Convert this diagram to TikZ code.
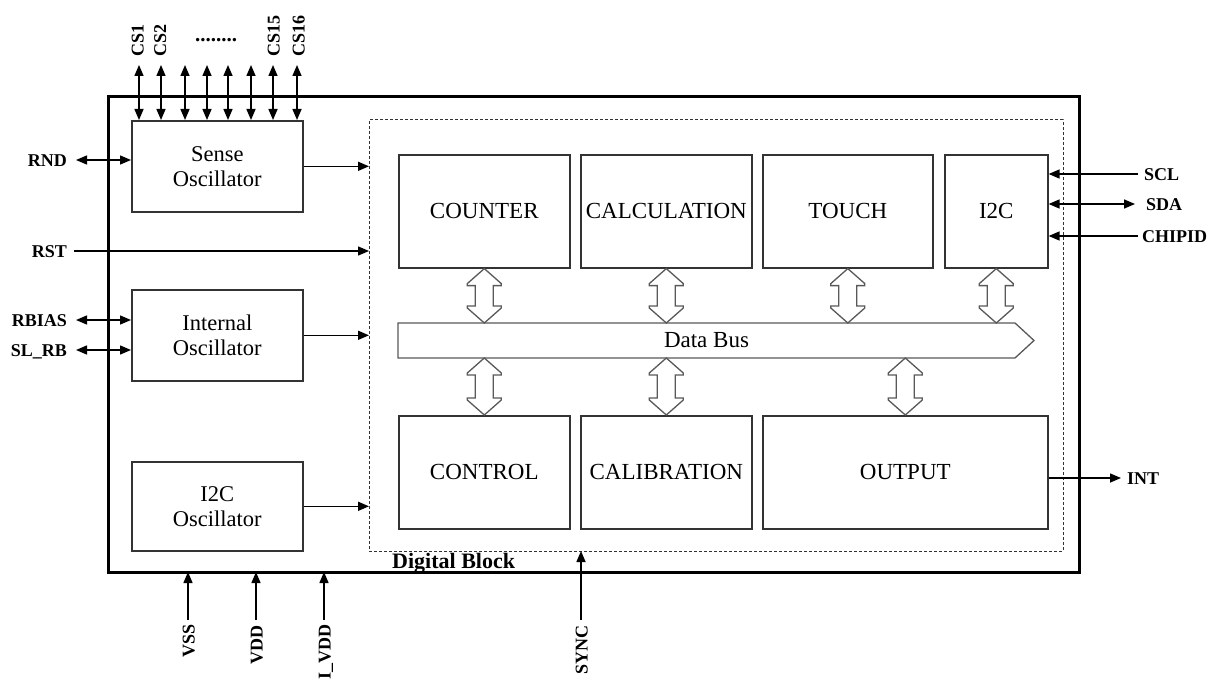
\documentclass[tikz,border=0pt]{standalone}
\usepackage{fontspec}
\setmainfont{Liberation Serif}
\usetikzlibrary{arrows.meta,calc}
\newcommand\busarrow[2]{\draw[busarr] let \p1=(#1), \p2=(#2) in
  (\x1,\y1) -- (\x1-17pt,\y1-15pt) -- (\x1-17pt,\y1-17pt) -- (\x1-9pt,\y1-17pt)
  -- (\x1-9pt,\y2+17pt) -- (\x1-17pt,\y2+17pt) -- (\x1-17pt,\y2+15pt) -- (\x1,\y2)
  -- (\x1+17pt,\y2+15pt) -- (\x1+17pt,\y2+17pt) -- (\x1+9pt,\y2+17pt)
  -- (\x1+9pt,\y1-17pt) -- (\x1+17pt,\y1-17pt) -- (\x1+17pt,\y1-15pt) -- cycle;}
\begin{document}
\begin{tikzpicture}[x=1pt,y=-1pt,
  >={Triangle[length=11pt,width=9pt]},
  wire/.style={line width=1.5pt, draw=black},
  blk/.style={draw=black!80, line width=1.6pt, inner sep=0pt, anchor=north west,
    font=\fontsize{23}{25}\selectfont},
  osc/.style={blk, align=center, minimum width=171pt, font=\fontsize{22.5}{25}\selectfont},
  pinlab/.style={inner sep=0pt, text height=13pt, text depth=0pt,
    font=\fontsize{18}{20}\selectfont\bfseries},
  busarr/.style={draw=black!65, line width=1.3pt, fill=white, line join=miter},
]
\useasboundingbox (0,0) rectangle (1208,682);
% outer chip and digital block
\node[draw, line width=3pt, anchor=north west, minimum width=971pt, minimum height=475pt,
  inner sep=0pt, outer sep=0pt] (chip) at (108,97) {};
\node[draw=black!80, line width=1pt, dash pattern=on 3pt off 2pt, anchor=north west,
  minimum width=694pt, minimum height=431pt, inner sep=0pt, outer sep=0pt] (dig) at (369,120) {};
\node[font=\fontsize{22}{24}\selectfont\bfseries, anchor=base west, inner sep=0pt] (diglab)
  at (392,568) {Digital Block};
% oscillators
\node[osc, minimum height=91pt] (sense) at (131,120) {Sense\\Oscillator};
\node[osc, minimum height=91pt] (internal) at (131,289) {Internal\\Oscillator};
\node[osc, minimum height=89pt] (i2cosc) at (131,461) {I2C\\Oscillator};
% digital blocks
\node[blk, minimum width=171pt, minimum height=113pt] (counter) at (398,154) {COUNTER};
\node[blk, minimum width=171pt, minimum height=113pt] (calc) at (580,154) {CALCULATION};
\node[blk, minimum width=170pt, minimum height=113pt] (touch) at (762,154) {TOUCH};
\node[blk, minimum width=103pt, minimum height=113pt] (i2c) at (944,154) {I2C};
\node[blk, minimum width=171pt, minimum height=113pt] (control) at (398,415) {CONTROL};
\node[blk, minimum width=171pt, minimum height=113pt] (calib) at (580,415) {CALIBRATION};
\node[blk, minimum width=285pt, minimum height=113pt] (output) at (762,415) {OUTPUT};
% data bus
\node[inner sep=0pt, outer sep=0pt, anchor=north west, minimum width=617pt, minimum height=35pt,
  font=\fontsize{23}{25}\selectfont] (bus) at (398,323) {};
\draw[busarr] (bus.north west) -- (bus.north east) -- ([xshift=19pt]bus.east)
  -- (bus.south east) -- (bus.south west) -- cycle;
\node[inner sep=0pt, font=\fontsize{23}{25}\selectfont] (buslab) at (bus.center) {Data Bus};
\busarrow{counter.south}{counter.south |- bus.north}
\busarrow{calc.south}{calc.south |- bus.north}
\busarrow{touch.south}{touch.south |- bus.north}
\busarrow{i2c.south}{i2c.south |- bus.north}
\busarrow{control.north |- bus.south}{control.north}
\busarrow{calib.north |- bus.south}{calib.north}
\busarrow{output.north |- bus.south}{output.north}
% oscillator outputs
\draw[wire,->] (sense.east) -- (sense.east -| dig.west);
\draw[wire,->] (internal.east) -- (internal.east -| dig.west);
\draw[wire,->] (i2cosc.east) -- (i2cosc.east -| dig.west);
% left pins
\node[pinlab, anchor=east] (rnd) at (67,160) {RND};
\node[pinlab, anchor=east] (rst) at (67,251) {RST};
\node[pinlab, anchor=east] (rbias) at (67,320) {RBIAS};
\node[pinlab, anchor=east] (slrb) at (67,350) {SL\_RB};
\draw[wire,<->] ([xshift=9pt]rnd.east) -- (rnd.east -| sense.west);
\draw[wire,->] ([xshift=7pt]rst.east) -- (rst.east -| dig.west);
\draw[wire,<->] ([xshift=9pt]rbias.east) -- (rbias.east -| internal.west);
\draw[wire,<->] ([xshift=9pt]slrb.east) -- (slrb.east -| internal.west);
% right pins
\node[pinlab, anchor=west] (scl) at (1144,174) {SCL};
\node[pinlab, anchor=west] (sda) at (1146,204) {SDA};
\node[pinlab, anchor=west] (chipid) at (1142,236) {CHIPID};
\node[pinlab, anchor=west] (int) at (1127,478) {INT};
\draw[wire,->] ([xshift=-6pt]scl.west) -- (scl.west -| i2c.east);
\draw[wire,<->] ([xshift=-11pt]sda.west) -- (sda.west -| i2c.east);
\draw[wire,->] ([xshift=-4pt]chipid.west) -- (chipid.west -| i2c.east);
\draw[wire,->] (output.east |- int.west) -- ([xshift=-6pt]int.west);
% top CS pins
\foreach \x [count=\i] in {139,161,185,207,228,251,273,297}{
  \coordinate (cs\i) at (\x,65);
  \draw[wire,<->] (cs\i) -- (cs\i |- sense.north);
}
\node[pinlab, rotate=90, anchor=west] (csl1) at (137,57) {CS1};
\node[pinlab, rotate=90, anchor=west] (csl2) at (159.5,57) {CS2};
\node[pinlab, rotate=90, anchor=west] (csl15) at (273,57) {CS15};
\node[pinlab, rotate=90, anchor=west] (csl16) at (298,57) {CS16};
\node[inner sep=0pt, anchor=base, font=\fontsize{21}{22}\selectfont\bfseries] (dots) at (216,42) {........};
% bottom pins
\node[pinlab, rotate=90, anchor=east] (vss) at (188,624) {VSS};
\node[pinlab, rotate=90, anchor=east] (vdd) at (256,625) {VDD};
\node[pinlab, rotate=90, anchor=east] (ivdd) at (324,624) {I\_VDD};
\node[pinlab, rotate=90, anchor=east] (sync) at (581,625) {SYNC};
\draw[wire,->] ([yshift=4pt]vss.east) -- (vss.east |- chip.south);
\draw[wire,->] ([yshift=5pt]vdd.east) -- (vdd.east |- chip.south);
\draw[wire,->] ([yshift=4pt]ivdd.east) -- (ivdd.east |- chip.south);
\draw[wire,->] ([yshift=5pt]sync.east) -- (sync.east |- dig.south);
\end{tikzpicture}
\end{document}
